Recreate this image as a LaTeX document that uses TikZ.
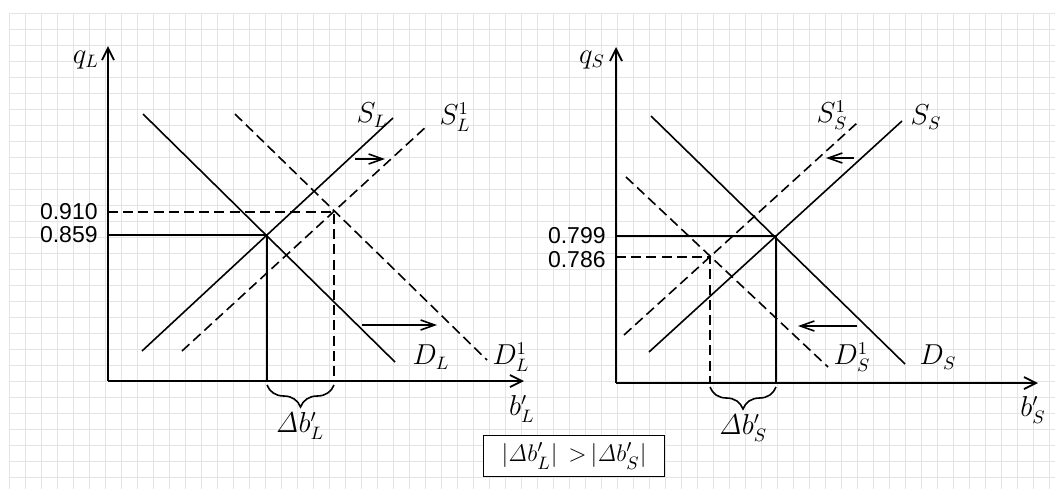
\documentclass[tikz,border=0pt]{standalone}
\usepackage[no-math]{fontspec}
\usepackage{amsmath}
\usepackage{tikz}
\usetikzlibrary{arrows.meta,decorations.pathreplacing,calc}
\newfontfamily\numfont{Liberation Sans}
\newcommand{\dlt}{\mathit{\Delta}}
\definecolor{gridc}{HTML}{E4E4E4}
\tikzset{
  gridln/.style={draw=gridc, line width=0.5pt},
  axis/.style={line width=0.9pt, -{Straight Barb[length=6pt,width=6pt]}},
  curve/.style={line width=0.8pt},
  shifted/.style={curve, dash pattern=on 5pt off 2.6pt},
  shiftarr/.style={line width=0.8pt, -{Straight Barb[length=7pt,width=5pt]}},
  lbl/.style={font=\fontsize{13.5}{15}\selectfont, inner sep=0pt},
  numlbl/.style={font=\numfont\fontsize{11.5}{13}\selectfont, inner sep=0pt, anchor=east},
  brc/.style={decorate, decoration={brace, mirror, amplitude=11pt}, line width=0.8pt},
}

\begin{document}
\begin{tikzpicture}[x=0.5pt, y=-0.5pt]
  \useasboundingbox (0,0) rectangle (1055,489);
  % grid paper
  \foreach \gx in {9,25,...,1050} \draw[gridln] (\gx,13) -- (\gx,489);
  \foreach \gy in {13,29,...,489} \draw[gridln] (9,\gy) -- (1055,\gy);

  % ---- left market (L)
  \coordinate (oL) at (108,381);
  \coordinate (qLtop) at (108,46);
  \coordinate (bLend) at (524,381);
  \draw[axis] (oL) -- (qLtop);
  \draw[axis] (oL) -- (bLend);
  \coordinate (sL0) at (142,351);  \coordinate (sL1) at (393,118);
  \coordinate (dL0) at (143,114);  \coordinate (dL1) at (395,362);
  \coordinate (sLn0) at (182,351); \coordinate (sLn1) at (428,125);
  \coordinate (dLn0) at (235,114); \coordinate (dLn1) at (487,360);
  \coordinate (eL) at (267,235);
  \coordinate (eLn) at (334,212);
  \draw[curve] (sL0) -- (sL1);
  \draw[curve] (dL0) -- (dL1);
  \draw[shifted] (sLn0) -- (sLn1);
  \draw[shifted] (dLn0) -- (dLn1);
  \draw[curve] (eL -| oL) -- (eL) -- (eL |- oL);
  \draw[shifted] (eLn -| oL) -- (eLn) -- (eLn |- oL);
  \coordinate (aSL0) at (355,159); \coordinate (aSL1) at (385,159);
  \coordinate (aDL0) at (362,325); \coordinate (aDL1) at (437,325);
  \draw[shiftarr] (aSL0) -- (aSL1);
  \draw[shiftarr] (aDL0) -- (aDL1);
  \coordinate (brL0) at (267,385); \coordinate (brL1) at (334,385);
  \draw[brc] (brL0) -- (brL1);
  \node[lbl] (qL) at (86,60) {$q_L$};
  \node[lbl] (bL) at (522,409) {$b'_L$};
  \node[lbl] (sLl) at (372,115) {$S_L$};
  \node[lbl] (sLnl) at (455,117) {$S_L^1$};
  \node[lbl] (dLl) at (431,357) {$D_L$};
  \node[lbl] (dLnl) at (511,357) {$D_L^1$};
  \node[lbl] (dbL) at (300,426) {$\dlt b'_L$};
  \node[numlbl] (pLn) at (98,212) {0.910};
  \node[numlbl] (pL) at (98,235) {0.859};

  % ---- right market (S)
  \coordinate (oS) at (616,383);
  \coordinate (qStop) at (616,47);
  \coordinate (bSend) at (1038,383);
  \draw[axis] (oS) -- (qStop);
  \draw[axis] (oS) -- (bSend);
  \coordinate (sS0) at (649,352);  \coordinate (sS1) at (902,121);
  \coordinate (dS0) at (651,116);  \coordinate (dS1) at (905,364);
  \coordinate (sSn0) at (624,335); \coordinate (sSn1) at (857,123);
  \coordinate (dSn0) at (626,177); \coordinate (dSn1) at (828,367);
  \coordinate (eS) at (776,236);
  \coordinate (eSn) at (710,257);
  \draw[curve] (sS0) -- (sS1);
  \draw[curve] (dS0) -- (dS1);
  \draw[shifted] (sSn0) -- (sSn1);
  \draw[shifted] (dSn0) -- (dSn1);
  \draw[curve] (eS -| oS) -- (eS) -- (eS |- oS);
  \draw[shifted] (eSn -| oS) -- (eSn) -- (eSn |- oS);
  \coordinate (aSS0) at (854,158); \coordinate (aSS1) at (826,158);
  \coordinate (aDS0) at (857,326); \coordinate (aDS1) at (798,326);
  \draw[shiftarr] (aSS0) -- (aSS1);
  \draw[shiftarr] (aDS0) -- (aDS1);
  \coordinate (brS0) at (710,387); \coordinate (brS1) at (776,387);
  \draw[brc] (brS0) -- (brS1);
  \node[lbl] (qS) at (592,60) {$q_S$};
  \node[lbl] (bS) at (1033,410) {$b'_S$};
  \node[lbl] (sSnl) at (832,115) {$S_S^1$};
  \node[lbl] (sSl) at (926,117) {$S_S$};
  \node[lbl] (dSnl) at (852,357) {$D_S^1$};
  \node[lbl] (dSl) at (938,357) {$D_S$};
  \node[lbl] (dbS) at (743,428) {$\dlt b'_S$};
  \node[numlbl] (pS) at (606,236) {0.799};
  \node[numlbl] (pSn) at (606,260) {0.786};

  % comparison
  \node[draw, line width=0.8pt, fill=white, font=\fontsize{13}{15}\selectfont,
        minimum width=90.5pt, minimum height=20.5pt, inner sep=1pt]
       (cmp) at (574,456) {$|\dlt b'_L|\;\,{>}\,|\dlt b'_S|$\hspace{7pt}};
\end{tikzpicture}
\end{document}
